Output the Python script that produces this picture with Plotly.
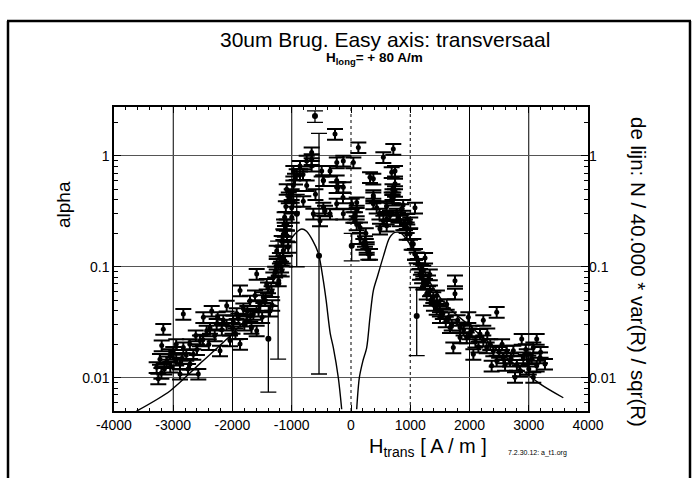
import plotly.graph_objects as go

# ---------------- data ----------------
left_h = [-3252, -3280, -3224, -3195, -3168, -3055, -2886, -2886, -2830, -2830,
          -2717, -2661, -2577, -2549, -2492, -2436, -2351, -2267, -2211, -2155,
          -2098, -2042, -1986, -1930, -1873, -1873, -1817, -1761, -1705, -1649,
          -1620, -1592, -1592, -1536, -1480, -1423, -1367, -1340, -1311, -1254,
          -1254, -1200, -1170, -1142, -3110, -3000, -2950, -2780, -2720, -2600,
          -2620, -2500, -2400, -2380, -2300, -2250, -2180, -2100, -2000, -1950,
          -1900, -1800, -1750, -1700, -1680, -1560, -1500, -1450, -1400, -1330,
          -1280, -1220, -3200, -3150, -3050, -2950, -2850, -2750]
left_alpha = [0.0098, 0.0124, 0.0147, 0.0195, 0.0274, 0.0163, 0.0133, 0.0108, 0.0375, 0.0187,
              0.0133, 0.0163, 0.0108, 0.0216, 0.035, 0.0265, 0.040, 0.0305, 0.0175, 0.033,
              0.0445, 0.0216, 0.0326, 0.038, 0.0201, 0.061, 0.042, 0.0326, 0.0494, 0.0375,
              0.055, 0.086, 0.0265, 0.045, 0.053, 0.070, 0.040, 0.060, 0.080, 0.106,
              0.139, 0.120, 0.171, 0.196, 0.014, 0.017, 0.0145, 0.016, 0.020, 0.018,
              0.024, 0.022, 0.020, 0.028, 0.024, 0.035, 0.027, 0.030, 0.028, 0.025,
              0.034, 0.030, 0.040, 0.036, 0.028, 0.040, 0.035, 0.050, 0.065, 0.045,
              0.090, 0.075, 0.011, 0.012, 0.0125, 0.020, 0.015, 0.012]

peak_h = [-664, -664, -664, -861, -810, -917, -495, -240, -270, 40,
          -467, -242, -214, -973, -1001, -973, -1001, -242, -439, -354,
          -523, -636, -1085, -1114, -1142, -1142, -1114, -1170, -973, -1085,
          -1050, -1100, -1120, -1130, -1080, -1060, -1150, -1180, -354, -242,
          -135, -467, -748, -805, -467, -861, -748, -130, -130, -130,
          124, 546, 714, 743, 743, 321, 743, 714, 687, 377,
          434, 96, 96, 68, 96, 152, 236, 265, 292, 208,
          1080, 546, 658, 771, 827, 883, 940, 602, 489, 996,
          1052, 1080, 377, 377, 377, 687, 700, 700, 700, 12,
          40, 152, 265, 321, 602, 800, 911, 940, 1024, 1080,
          -945, -1000, -600, 600, 850, 950, 480, 250, 1000, 880]
peak_alpha = [1.07, 0.93, 0.81, 0.81, 0.68, 0.68, 0.73, 0.87, 1.57, 0.87,
              0.60, 0.60, 0.52, 0.54, 0.45, 0.39, 0.34, 0.37, 0.32, 0.30,
              0.26, 0.30, 0.24, 0.21, 0.17, 0.14, 0.113, 0.092, 0.73, 0.50,
              0.42, 0.35, 0.28, 0.24, 0.19, 0.15, 0.12, 0.10, 0.73, 0.52,
              0.42, 0.60, 0.54, 0.39, 0.34, 0.68, 0.90, 0.90, 0.52, 0.30,
              1.19, 0.97, 1.15, 0.73, 0.56, 0.64, 0.48, 0.42, 0.42, 0.44,
              0.34, 0.38, 0.32, 0.28, 0.24, 0.18, 0.17, 0.144, 0.13, 0.16,
              0.34, 0.26, 0.29, 0.30, 0.26, 0.24, 0.226, 0.234, 0.22, 0.197,
              0.16, 0.13, 0.62, 0.42, 0.37, 0.71, 0.50, 0.45, 0.40, 0.37,
              0.28, 0.226, 0.15, 0.13, 0.27, 0.28, 0.24, 0.197, 0.16, 0.13,
              0.62, 0.28, 0.45, 0.35, 0.33, 0.27, 0.30, 0.20, 0.25, 0.36]

right_h = [1109, 1136, 1165, 1220, 1220, 1249, 1278, 1250, 1333, 1389,
           1446, 1502, 1615, 1671, 1727, 1755, 1755, 1840, 1840, 1953,
           1980, 2037, 2065, 2177, 2233, 2233, 2290, 2374, 2402, 2459,
           2459, 2571, 2628, 2684, 2740, 2768, 2852, 2881, 2908, 2966,
           2993, 3077, 3077, 3134, 3134, 3190, 3274, 1350, 1400, 1450,
           1500, 1550, 1600, 1650, 1700, 1800, 1900, 2000, 2100, 2150,
           2300, 2350, 2500, 2550, 2600, 2700, 2800, 2950, 3000, 3050,
           3200, 1300, 1330, 1180, 1200]
right_alpha = [0.121, 0.106, 0.086, 0.070, 0.092, 0.070, 0.057, 0.120, 0.061, 0.053,
               0.0416, 0.035, 0.046, 0.0284, 0.0187, 0.075, 0.057, 0.0284, 0.023, 0.023,
               0.035, 0.0265, 0.0163, 0.0248, 0.033, 0.0216, 0.0187, 0.0128, 0.0175, 0.039,
               0.0142, 0.0152, 0.0175, 0.0142, 0.0175, 0.0101, 0.0116, 0.0223, 0.0152, 0.0163,
               0.0142, 0.0101, 0.0187, 0.0223, 0.0128, 0.0152, 0.0133, 0.050, 0.045, 0.055,
               0.040, 0.038, 0.032, 0.035, 0.030, 0.033, 0.027, 0.025, 0.021, 0.019,
               0.025, 0.020, 0.017, 0.020, 0.013, 0.015, 0.013, 0.018, 0.012, 0.015,
               0.017, 0.075, 0.085, 0.095, 0.080]

# points with long, asymmetric error bars
wide_h = [-1395, -1230, -540, -608, 12, 1109, -916]
wide_alpha = [0.0224, 0.070, 0.126, 2.29, 0.155, 0.036, 0.30]
wide_hi = [0.045, 0.17, 1.59, 2.54, 0.20, 0.065, 0.45]
wide_lo = [0.0074, 0.0147, 0.0108, 2.00, 0.113, 0.0158, 0.10]

# the line: N / 40.000 * var(R) / sqr(R)
curve_left_h = [-3620, -3055, -2549, -2000, -1500, -1250, -1100, -1000, -900, -830,
                -750, -650, -550, -467, -420, -350, -298, -214, -157]
curve_left_v = [0.0050, 0.0076, 0.0134, 0.025, 0.050, 0.089, 0.148, 0.182, 0.209, 0.219,
                0.209, 0.174, 0.132, 0.075, 0.050, 0.025, 0.0187, 0.0100, 0.0052]
curve_right_h = [96, 141, 200, 265, 320, 377, 450, 550, 650, 743,
                 850, 1000, 1200, 1400, 1671, 2000, 2290, 2700, 3190, 3583]
curve_right_v = [0.0052, 0.0100, 0.0141, 0.0187, 0.035, 0.061, 0.083, 0.126, 0.182, 0.204,
                 0.200, 0.158, 0.100, 0.063, 0.0416, 0.0295, 0.0216, 0.0141, 0.0088, 0.0066]

x_ticks = [-4000, -3000, -2000, -1000, 0, 1000, 2000, 3000, 4000]
x_ticktext = ["-4000", "-3000", "-2000", "-1000", "0", "1000", "2000", "3000", "4000"]
y_ticks = [0.01, 0.1, 1]
y_ticktext = ["0.01", "0.1", "1"]

# ---------------- figure ----------------
FONT = "Liberation Sans, Arial, Helvetica, sans-serif"
fig = go.Figure()

pts_style = dict(mode="markers", marker=dict(color="black", size=5),
                 error_y=dict(type="percent", value=11, color="black", thickness=2, width=8))
for hx, ay in [(left_h, left_alpha), (peak_h, peak_alpha), (right_h, right_alpha)]:
    fig.add_trace(go.Scatter(x=hx, y=ay, **pts_style))

fig.add_trace(go.Scatter(
    x=wide_h, y=wide_alpha, mode="markers",
    marker=dict(color="black", size=6),
    error_y=dict(type="data", symmetric=False,
                 array=[h - a for h, a in zip(wide_hi, wide_alpha)],
                 arrayminus=[a - l for a, l in zip(wide_alpha, wide_lo)],
                 color="black", thickness=1.3, width=8)))

for hx, cv in [(curve_left_h, curve_left_v), (curve_right_h, curve_right_v)]:
    fig.add_trace(go.Scatter(x=hx, y=cv, mode="lines", yaxis="y2",
                             line=dict(color="black", width=1.4, shape="spline", smoothing=0.8)))

# vertical grid lines
shapes = []
for xv in x_ticks[1:-1]:
    shapes.append(dict(type="line", xref="x", yref="paper", x0=xv, x1=xv, y0=0, y1=1,
                       line=dict(color="black", width=1, dash="dot" if xv in (0, 1000) else "solid"),
                       layer="below"))

# outer frame (pixel -> paper conversion for a 474x304 plot area at l=114, t=107)
def px(xp):
    return (xp - 114) / 474.0

def py(yp):
    return (411 - yp) / 304.0

frame = dict(color="black", width=2.5)
TOP = 21
shapes += [
    dict(type="line", xref="paper", yref="paper", x0=px(8), x1=px(8), y0=py(TOP), y1=py(485), line=frame),
    dict(type="line", xref="paper", yref="paper", x0=px(690), x1=px(690), y0=py(TOP), y1=py(485), line=frame),
    dict(type="line", xref="paper", yref="paper", x0=px(7), x1=px(691), y0=py(TOP), y1=py(TOP), line=frame),
]

minor_log = [m * 10 ** e for e in (-3, -2, -1, 0) for m in range(2, 10)]

yaxis_common = dict(type="log", range=[-2.30, 0.44], tickvals=y_ticks, ticktext=y_ticktext,
                    ticks="inside", ticklen=7, tickcolor="black",
                    tickfont=dict(size=14, family=FONT, color="black"),
                    minor=dict(tickvals=minor_log, ticks="inside", ticklen=4, tickcolor="black"),
                    zeroline=False)

def note(text, xp, yp, size, angle=0):
    return dict(text=text, xref="paper", yref="paper", x=px(xp), y=py(yp),
                xanchor="center", yanchor="middle", textangle=angle,
                showarrow=False, font=dict(size=size, family=FONT, color="black"))

fig.update_layout(
    width=697, height=478,
    margin=dict(l=114, r=109, t=107, b=67),
    paper_bgcolor="white", plot_bgcolor="white",
    showlegend=False,
    font=dict(family=FONT, color="black"),
    xaxis=dict(range=[-4000, 4000], tickvals=x_ticks, ticktext=x_ticktext,
               ticks="inside", ticklen=6, tickcolor="black",
               tickfont=dict(size=14, family=FONT, color="black"),
               minor=dict(dtick=200, ticks="inside", ticklen=3, tickcolor="black"),
               showline=True, linecolor="black", linewidth=1.5, mirror="ticks",
               showgrid=False, zeroline=False),
    yaxis=dict(**yaxis_common, showline=True, linecolor="black", linewidth=1.5,
               mirror=True, showgrid=True, gridcolor="#555555", gridwidth=1),
    yaxis2=dict(**yaxis_common, overlaying="y", side="right", showgrid=False,
                showline=False),
    shapes=shapes,
    annotations=[
        note("30um Brug. Easy axis: transversaal", 385, 39, 21),
        note("<b>H<sub>long</sub>= + 80 A/m</b>", 374, 59, 13.5),
        note("alpha", 63, 205, 19, angle=-90),
        note("de lijn: N / 40.000 * var(R) / sqr(R)", 639, 272, 20.5, angle=90),
        note("H<sub>trans</sub> [ A / m ]", 428, 447, 20),
        note("7.2.30.12: a_t1.org", 537, 453, 7),
    ],
)

fig.write_html("out.html")
